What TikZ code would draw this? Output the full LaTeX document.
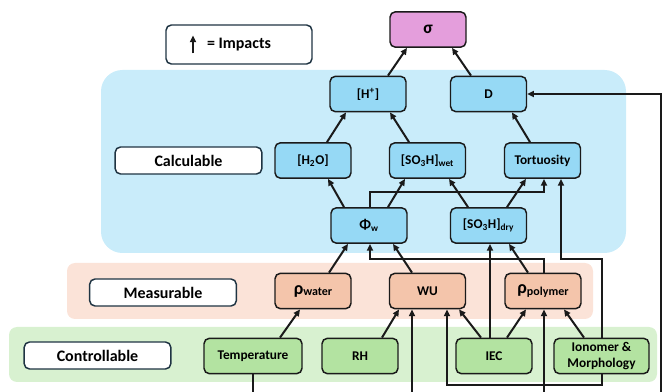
\documentclass[tikz,border=0pt]{standalone}
\usepackage{fontspec}
\setmainfont{Carlito}
\usetikzlibrary{arrows.meta,calc}
\definecolor{ink}{HTML}{1A1A1A}
\definecolor{marco}{HTML}{1F3443}
\definecolor{calcfondo}{HTML}{C9ECFA}
\definecolor{calcnodo}{HTML}{96D9F5}
\definecolor{medfondo}{HTML}{FBE3D8}
\definecolor{mednodo}{HTML}{F4C5AB}
\definecolor{ctrlfondo}{HTML}{D8F1D0}
\definecolor{ctrlnodo}{HTML}{B3E3A1}
\definecolor{sigmanodo}{HTML}{E49EDC}
\tikzset{
  caja/.style={draw=ink,line width=1.1pt,rounded corners=4pt,fill=#1,align=center,
    font=\bfseries\fontsize{10}{11.5}\selectfont,minimum width=57pt,minimum height=26.5pt,inner sep=1pt},
  etiqueta/.style={draw=marco,line width=1.1pt,rounded corners=4pt,fill=white,
    font=\bfseries\fontsize{12}{14}\selectfont,minimum width=110pt,minimum height=20.25pt},
  flecha/.style={-{Triangle[length=5pt,width=4.5pt]},line width=1.5pt,color=ink},
  linea/.style={line width=1.5pt,color=ink},
}

\begin{document}
\begin{tikzpicture}[x=0.75pt,y=-0.75pt]
  \useasboundingbox (0,0) rectangle (662,392);
  % capas de fondo
  \fill[calcfondo,rounded corners=16pt] (101,70) rectangle (626,253);
  \fill[medfondo,rounded corners=6pt] (67,263) rectangle (593,319);
  \fill[ctrlfondo,rounded corners=6pt] (9,327) rectangle (657,382);
  % etiquetas y leyenda
  \node[etiqueta,minimum width=109.5pt,minimum height=29.25pt] (leyenda) at (239,44.5) {= Impacts};
  \draw[flecha] ($(leyenda.center)+(-46,9)$) -- ($(leyenda.center)+(-46,-9)$);
  \node[etiqueta] (calculable) at (188.5,160.5) {Calculable};
  \node[etiqueta] (medible) at (163,292.5) {Measurable};
  \node[etiqueta] (controlable) at (97.5,355.5) {Controllable};
  % nodos calculables
  \node[caja=sigmanodo] (sigma) at (428,29.5) {\fontsize{13}{14}\selectfont σ};
  \node[caja=calcnodo] (hplus) at (368,94) {[H\textsuperscript{+}]};
  \node[caja=calcnodo] (dd) at (488.5,94) {D};
  \node[caja=calcnodo] (hwo) at (313,160.5) {[H\textsubscript{2}O]};
  \node[caja=calcnodo] (sowet) at (427.5,160.5) {[SO\textsubscript{3}H]\textsubscript{wet}};
  \node[caja=calcnodo] (tort) at (542.5,160.5) {Tortuosity};
  \node[caja=calcnodo] (phiw) at (369,225.5) {{\fontsize{11}{12}\selectfont Φ}\textsubscript{w}};
  \node[caja=calcnodo] (sodry) at (488.5,225.5) {[SO\textsubscript{3}H]\textsubscript{dry}};
  % nodos medibles
  \node[caja=mednodo] (rhow) at (313,291) {{\fontsize{13.5}{14}\selectfont ρ}\raisebox{-1pt}{\fontsize{9}{10}\selectfont water}};
  \node[caja=mednodo] (wu) at (427.5,291) {WU};
  \node[caja=mednodo] (rhop) at (543,291) {{\fontsize{13.5}{14}\selectfont ρ}\raisebox{-1pt}{\fontsize{9}{10}\selectfont polymer}};
  % nodos controlables
  \node[caja=ctrlnodo,minimum width=73.5pt] (temp) at (253,356) {Temperature};
  \node[caja=ctrlnodo] (rh) at (360,356) {RH};
  \node[caja=ctrlnodo] (iec) at (494,356) {IEC};
  \node[caja=ctrlnodo,minimum width=71.25pt] (iono) at (601.5,356) {Ionomer \&\\Morphology};
  % extremos libres (borde inferior)
  \coordinate (bajoT) at (253,392);
  \coordinate (bajoWU) at (412,392);
  \coordinate (bajoRP) at (544,392);
  \coordinate (bajoD) at (660.5,392);
  % flechas
  \draw[flecha] ($(hplus.north)+(20,0)$) -- ($(sigma.south)+(-21,0)$);
  \draw[flecha] ($(dd.north)+(-17.5,0)$) -- ($(sigma.south)+(24,0)$);
  \draw[flecha] ($(hwo.north)+(14,0)$) -- ($(hplus.south)+(-22,0)$);
  \draw[flecha] ($(sowet.north)+(-18.5,0)$) -- ($(hplus.south)+(22,0)$);
  \draw[flecha] ($(tort.north)+(-12.5,0)$) -- ($(dd.south)+(23.5,0)$);
  \draw[flecha] ($(phiw.north)+(-25,0)$) -- ($(hwo.south)+(15,0)$);
  \draw[flecha] ($(phiw.north)+(19,0)$) -- ($(sowet.south)+(-22.5,0)$);
  \draw[flecha] ($(sodry.north)+(-20.5,0)$) -- ($(sowet.south)+(21.5,0)$);
  \draw[flecha] ($(sodry.north)+(18.5,0)$) -- ($(tort.south)+(-16.5,0)$);
  \draw[flecha] ($(phiw.north)+(1,0)$) -- ++(0,-15) -| ($(tort.south)+(1.5,0)$);
  \draw[flecha] (iono.north) -- ++(0,-79) -| ($(tort.south)+(18.5,0)$);
  \draw[flecha] ($(rhow.north)+(16,0)$) -- ($(phiw.south)+(-21,0)$);
  \draw[flecha] ($(wu.north)+(-15.5,0)$) -- ($(phiw.south)+(24,0)$);
  \draw[flecha] ($(rhop.north)+(1,0)$) -- ++(0,-14) -| ($(phiw.south)+(1,0)$);
  \draw[flecha] ($(rhop.north)+(-15,0)$) -- ($(sodry.south)+(20.5,0)$);
  \draw[flecha] ($(iec.north)+(-4,0)$) -- ($(sodry.south)+(1.5,0)$);
  \draw[flecha] ($(temp.north)+(27,0)$) -- ($(rhow.south)+(-13,0)$);
  \draw[flecha] ($(rh.north)+(22,0)$) -- ($(wu.south)+(-28.5,0)$);
  \draw[flecha] ($(iec.north)+(-13,0)$) -- ($(wu.south)+(31.5,0)$);
  \draw[flecha] ($(iec.north)+(13,0)$) -- ($(rhop.south)+(-17,0)$);
  \draw[flecha] ($(iono.north)+(-17.5,0)$) -- ($(rhop.south)+(21,0)$);
  \draw[flecha] (iono.south) -- ++(0,11) -| ($(wu.south)+(19.5,0)$);
  \draw[linea] (temp.south) -- (bajoT);
  \draw[flecha] (bajoWU) -- (bajoWU |- wu.south);
  \draw[flecha] (bajoRP) -- (bajoRP |- rhop.south);
  \draw[flecha] (bajoD) |- (dd.east);
\end{tikzpicture}
\end{document}
